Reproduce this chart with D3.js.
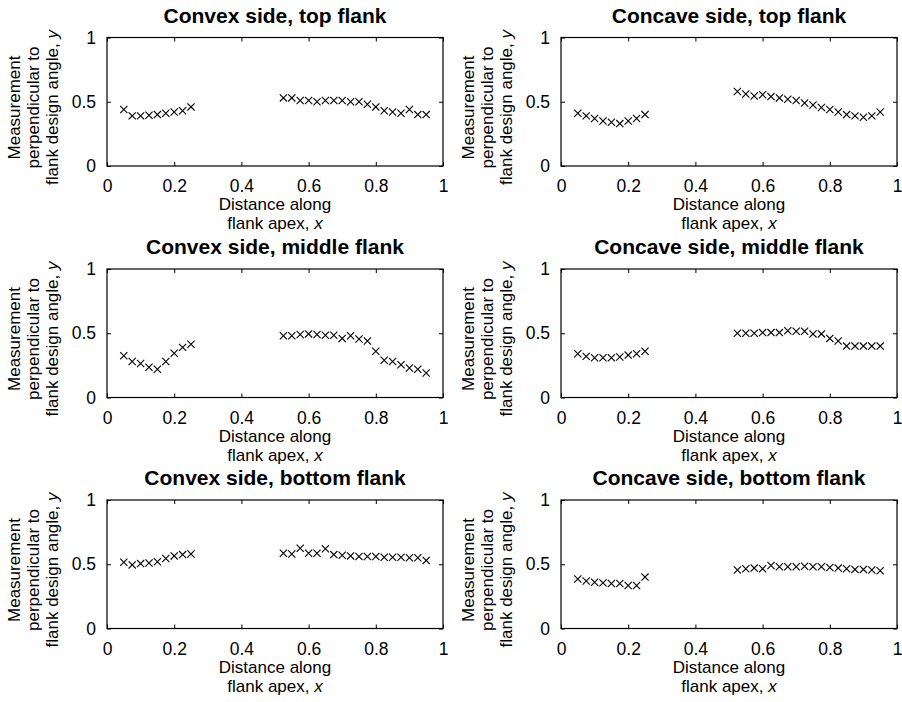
<!DOCTYPE html>
<html>
<head>
<meta charset="utf-8">
<script src="https://cdn.jsdelivr.net/npm/d3@7/dist/d3.min.js"></script>
<style>
  body { margin: 0; background: #fff; }
  text { font-family: "Liberation Sans", Arial, Helvetica, sans-serif; fill: #000; }
</style>
</head>
<body>
<svg id="fig" width="902" height="702"></svg>
<script>
// sample positions along the flank apex (two measured stretches)
const xPos = [0.05, 0.075, 0.1, 0.125, 0.15, 0.175, 0.2, 0.225, 0.25,
  0.525, 0.55, 0.575, 0.6, 0.625, 0.65, 0.675, 0.7, 0.725, 0.75, 0.775,
  0.8, 0.825, 0.85, 0.875, 0.9, 0.925, 0.95];

const convexTop = [0.44, 0.39, 0.39, 0.395, 0.40, 0.41, 0.42, 0.43, 0.46,
  0.53, 0.53, 0.51, 0.51, 0.50, 0.51, 0.51, 0.51, 0.50, 0.50, 0.48,
  0.46, 0.43, 0.42, 0.41, 0.44, 0.40, 0.40];
const concaveTop = [0.41, 0.39, 0.37, 0.35, 0.34, 0.33, 0.35, 0.37, 0.40,
  0.58, 0.56, 0.545, 0.555, 0.54, 0.53, 0.52, 0.51, 0.49, 0.475, 0.455,
  0.44, 0.42, 0.40, 0.39, 0.38, 0.39, 0.42];
const convexMiddle = [0.325, 0.28, 0.265, 0.235, 0.22, 0.28, 0.345, 0.39, 0.415,
  0.48, 0.48, 0.49, 0.495, 0.49, 0.485, 0.485, 0.46, 0.48, 0.455, 0.44,
  0.36, 0.29, 0.28, 0.255, 0.23, 0.22, 0.19];
const concaveMiddle = [0.34, 0.32, 0.31, 0.31, 0.31, 0.315, 0.33, 0.34, 0.36,
  0.50, 0.50, 0.50, 0.505, 0.505, 0.505, 0.52, 0.515, 0.515, 0.495, 0.495,
  0.46, 0.44, 0.40, 0.40, 0.40, 0.40, 0.40];
const convexBottom = [0.515, 0.495, 0.505, 0.51, 0.52, 0.545, 0.565, 0.575, 0.58,
  0.585, 0.58, 0.625, 0.585, 0.585, 0.62, 0.575, 0.57, 0.565, 0.56, 0.56,
  0.56, 0.555, 0.555, 0.555, 0.55, 0.55, 0.53];
const concaveBottom = [0.385, 0.37, 0.36, 0.355, 0.35, 0.35, 0.335, 0.335, 0.40,
  0.455, 0.465, 0.47, 0.465, 0.49, 0.48, 0.48, 0.48, 0.485, 0.48, 0.48,
  0.475, 0.47, 0.465, 0.46, 0.46, 0.455, 0.45];

const titles = ["Convex side, top flank", "Concave side, top flank",
  "Convex side, middle flank", "Concave side, middle flank",
  "Convex side, bottom flank", "Concave side, bottom flank"];
const seriesList = [convexTop, concaveTop, convexMiddle, concaveMiddle, convexBottom, concaveBottom];

const xTicks = [0, 0.2, 0.4, 0.6, 0.8, 1];
const xTickLabels = ["0", "0.2", "0.4", "0.6", "0.8", "1"];
const yTicks = [0, 0.5, 1];
const yTickLabels = ["0", "0.5", "1"];
const yLabelLines = ["Measurement", "perpendicular to", "flank design angle, "];
const xLabelLines = ["Distance along", "flank apex, "];

const colLeft = [107, 561];
const rowTop = [37.5, 269, 500];
const w = 336, h = 128.5;
const fs = 17;

const svg = d3.select("#fig");

const x = d3.scaleLinear().domain([0, 1]).range([0, w]);
const y = d3.scaleLinear().domain([0, 1]).range([h, 0]);

seriesList.forEach((vals, i) => {
  const g = svg.append("g")
    .attr("transform", "translate(" + colLeft[i % 2] + "," + rowTop[Math.floor(i / 2)] + ")");

  // inward ticks on all four sides
  const bottom = g.append("g").attr("transform", "translate(0," + h + ")")
    .call(d3.axisBottom(x).tickValues(xTicks).tickSizeInner(-4).tickSizeOuter(0)
      .tickPadding(10).tickFormat((d, k) => xTickLabels[k]));
  g.append("g")
    .call(d3.axisTop(x).tickValues(xTicks).tickSizeInner(-4).tickSizeOuter(0).tickFormat(""));
  g.append("g")
    .call(d3.axisLeft(y).tickValues(yTicks).tickSizeInner(-4).tickSizeOuter(0)
      .tickPadding(11).tickFormat((d, k) => yTickLabels[k]));
  g.append("g").attr("transform", "translate(" + w + ",0)")
    .call(d3.axisRight(y).tickValues(yTicks).tickSizeInner(-4).tickSizeOuter(0).tickFormat(""));

  g.selectAll(".domain").remove();
  g.selectAll(".tick line").attr("stroke", "#000");
  g.selectAll(".tick text").style("font-size", "17.5px").attr("fill", "#000");
  bottom.selectAll(".tick text").attr("dy", "0.92em");

  g.append("rect")
    .attr("width", w).attr("height", h)
    .attr("fill", "none").attr("stroke", "#000").attr("stroke-width", 1.2);

  // x markers
  g.selectAll("path.mk")
    .data(vals)
    .enter().append("path")
    .attr("class", "mk")
    .attr("transform", (d, k) => "translate(" + x(xPos[k]) + "," + y(d) + ")")
    .attr("d", "M-3.6,-3.6L3.6,3.6M-3.6,3.6L3.6,-3.6")
    .attr("stroke", "#000").attr("stroke-width", 1.1).attr("fill", "none");

  g.append("text")
    .attr("x", w / 2).attr("y", -15)
    .attr("text-anchor", "middle")
    .style("font-size", "21px").style("font-weight", "bold")
    .text(titles[i]);

  const xl = g.append("text").attr("text-anchor", "middle").style("font-size", fs + "px");
  xl.append("tspan").attr("x", w / 2).attr("y", h + 44).text(xLabelLines[0]);
  xl.append("tspan").attr("x", w / 2).attr("y", h + 63).text(xLabelLines[1]);
  xl.append("tspan").style("font-style", "italic").text("x");

  const yl = g.append("text")
    .attr("transform", "translate(0," + 70 + ") rotate(-90)")
    .attr("text-anchor", "middle").style("font-size", fs + "px");
  yl.append("tspan").attr("x", 0).attr("y", -87.5).text(yLabelLines[0]);
  yl.append("tspan").attr("x", 0).attr("y", -68.3).text(yLabelLines[1]);
  yl.append("tspan").attr("x", 0).attr("y", -49.1).text(yLabelLines[2]);
  yl.append("tspan").style("font-style", "italic").text("y");
});
</script>
</body>
</html>
